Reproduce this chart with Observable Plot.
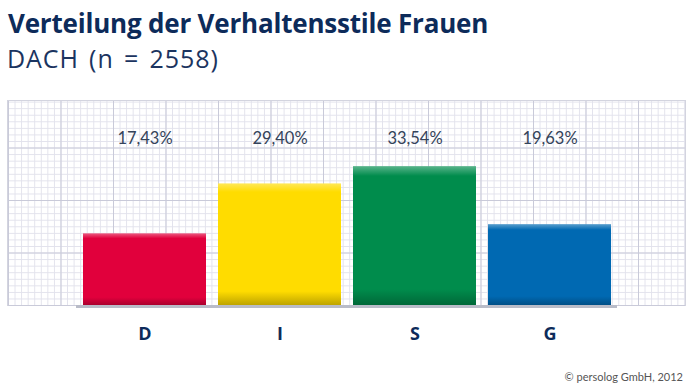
<!DOCTYPE html>
<html>
<head>
<meta charset="utf-8">
<script src="https://cdn.jsdelivr.net/npm/d3@7"></script>
<script src="https://cdn.jsdelivr.net/npm/@observablehq/plot@0.6"></script>
<style>
  html, body { margin: 0; padding: 0; background: #fff; }
  #wrap { position: relative; width: 697px; height: 386px; overflow: hidden; font-family: "Open Sans", Lato, sans-serif; }
  #title { position: absolute; left: 8px; top: 10px; font-size: 26px; line-height: 1; font-weight: 700; color: #0d2b5a; white-space: nowrap; letter-spacing: -0.2px; }
  #subtitle { position: absolute; left: 7px; top: 45.5px; font-size: 25px; line-height: 1; font-weight: 400; color: #1b3460; white-space: nowrap; letter-spacing: 0.9px; word-spacing: 3px; }
  #grid {
    position: absolute; left: 7px; top: 100px; width: 679px; height: 206px; box-sizing: border-box;
    border: 1px solid #d3d4df; border-bottom: none;
    background-image:
      linear-gradient(to right, #c9cad9 1px, transparent 1px),
      linear-gradient(to top, #c9cad9 1px, transparent 1px),
      linear-gradient(to right, #e2e2ec 1px, transparent 1px),
      linear-gradient(to top, #e2e2ec 1px, transparent 1px);
    background-size: 52.5px 100%, 100% 52.5px, 6.5625px 100%, 100% 6.5625px;
    background-position: left top, left bottom, left top, left bottom;
  }
  #chart { position: absolute; left: 0; top: 90px; }
  #caption { position: absolute; right: 14px; top: 371px; font-family: Lato, sans-serif; font-size: 11px; line-height: 1; color: #555; white-space: nowrap; }
</style>
</head>
<body>
<div id="wrap">
  <div id="title">Verteilung der Verhaltensstile Frauen</div>
  <div id="subtitle">DACH (n = 2558)</div>
  <div id="grid"></div>
  <div id="chart"></div>
  <div id="caption">© persolog GmbH, 2012</div>
</div>
<script>
const categories = ["D", "I", "S", "G"];
const values = [17.43, 29.40, 33.54, 19.63];
const valueLabels = ["17,43%", "29,40%", "33,54%", "19,63%"];
const barColors = ["#e1003c", "#ffdc00", "#008c4c", "#0069b2"];

const data = categories.map((c, i) => ({
  cat: c, value: values[i], label: valueLabels[i], fill: `url(#barGrad${i})`
}));

function gradientDefs() {
  const defs = d3.create("svg:defs");
  barColors.forEach((col, i) => {
    const base = d3.color(col);
    const light = d3.interpolateRgb(col, "#ffffff")(0.35);
    const dark = base.darker(0.9).formatHex();
    const g = defs.append("linearGradient").attr("id", `barGrad${i}`)
      .attr("x1", 0).attr("y1", 0).attr("x2", 0).attr("y2", 1);
    g.append("stop").attr("offset", 0).attr("stop-color", light);
    g.append("stop").attr("offset", 0.07).attr("stop-color", col);
    g.append("stop").attr("offset", 0.88).attr("stop-color", col);
    g.append("stop").attr("offset", 1).attr("stop-color", dark);
  });
  return defs.node();
}

const chart = Plot.plot({
  width: 697,
  height: 260,
  marginTop: 10,
  marginBottom: 44,
  marginLeft: 76,
  marginRight: 80,
  style: { background: "transparent", overflow: "visible" },
  x: { domain: categories, paddingInner: 0.09, paddingOuter: 0.045, axis: null },
  y: { domain: [0, 49.4], axis: null },
  color: { type: "identity" },
  marks: [
    gradientDefs,
    Plot.barY(data, { x: "cat", y: "value", fill: "fill" }),
    Plot.ruleY([0], { stroke: "#b9bcc8", strokeWidth: 3 }),
    Plot.text(data, { x: "cat", text: "label", frameAnchor: "top", dy: 31.5, fontSize: 16.5, fontWeight: 400, fill: "#34435a", fontFamily: "Lato, sans-serif" }),
    Plot.axisX({ tickSize: 0, tickPadding: 21, fontSize: 18, fontWeight: "bold", fill: "#0d2b5a", label: null, fontFamily: "Open Sans, sans-serif" })
  ]
});
document.getElementById("chart").append(chart);
</script>
</body>
</html>
